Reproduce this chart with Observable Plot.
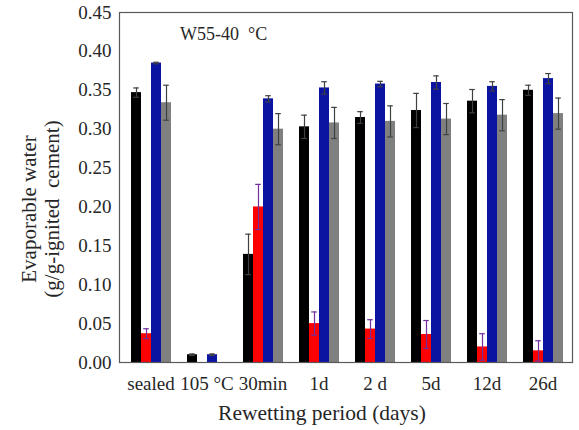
<!DOCTYPE html>
<html>
<head>
<meta charset="utf-8">
<script src="https://cdn.jsdelivr.net/npm/d3@7"></script>
<script src="https://cdn.jsdelivr.net/npm/@observablehq/plot@0.6"></script>
<style>
  html, body { margin: 0; padding: 0; background: #fff; }
  #chart { width: 579px; height: 430px; }
  #chart svg, #chart svg text { font-family: "Liberation Serif", "Times New Roman", serif !important; }
</style>
</head>
<body>
<div id="chart"></div>
<script>
// ---- data ----
const categories = ["sealed", "105 °C", "30min", "1d", "2 d", "5d", "12d", "26d"];
const seriesNames = ["S1", "S2", "S3", "S4"];
const seriesColors = ["#000000", "#ff0000", "#0a14a0", "#808080"];

const valuesS1 = [0.347, 0.010, 0.139, 0.303, 0.315, 0.324, 0.336, 0.350];
const valuesS2 = [0.037, 0.000, 0.200, 0.050, 0.043, 0.036, 0.020, 0.015];
const valuesS3 = [0.385, 0.010, 0.339, 0.353, 0.358, 0.360, 0.355, 0.365];
const valuesS4 = [0.334, 0.000, 0.300, 0.308, 0.310, 0.313, 0.318, 0.320];

const errorsS1 = [0.006, 0.001, 0.026, 0.015, 0.0075, 0.022, 0.015, 0.0065];
const errorsS2 = [0.0064, 0.000, 0.029, 0.015, 0.012, 0.018, 0.017, 0.013];
const errorsS3 = [0.001, 0.001, 0.004, 0.008, 0.0035, 0.0085, 0.006, 0.0065];
const errorsS4 = [0.0225, 0.000, 0.020, 0.020, 0.020, 0.020, 0.020, 0.020];

const yTicks = [0, 0.05, 0.10, 0.15, 0.20, 0.25, 0.30, 0.35, 0.40, 0.45];

const annotation = "W55-40\u00a0 °C";
const yTitle1 = "Evaporable water";
const yTitle2 = "(g/g-ignited\u00a0 cement)";
const xTitle = "Rewetting period (days)";

// ---- table ----
const allValues = [valuesS1, valuesS2, valuesS3, valuesS4];
const allErrors = [errorsS1, errorsS2, errorsS3, errorsS4];
const rows = [];
categories.forEach((c, i) => {
  seriesNames.forEach((s, j) => {
    rows.push({cat: c, series: s, value: allValues[j][i], err: allErrors[j][i]});
  });
});

const W = 579, H = 430;
const mL = 119, mR = 6, mT = 12, mB = 68;

const plot = Plot.plot({
  width: W,
  height: H,
  marginLeft: mL,
  marginRight: mR,
  marginTop: mT,
  marginBottom: mB,
  style: {fontSize: "19px", color: "#262626", background: "#fff"},
  facet: {data: rows, x: "cat"},
  fx: {domain: categories, paddingInner: 0.24, paddingOuter: 0.12, label: null, tickSize: 0, tickPadding: 14},
  x: {domain: seriesNames, axis: null, padding: 0},
  y: {domain: [0, 0.45], ticks: yTicks, tickFormat: ".2f", tickSize: 0, tickPadding: 18, label: null},
  color: {domain: seriesNames, range: seriesColors},
  marks: [
    Plot.barY(rows, {x: "series", y: "value", fill: "series", filter: d => d.value > 0}),
    Plot.ruleX(rows, {x: "series", y1: d => Math.max(0, d.value - d.err), y2: d => d.value + d.err,
      stroke: "#404040", strokeWidth: 1.2, filter: d => d.err > 0 && d.series !== "S2"}),
    Plot.tickY(rows, {x: "series", y: d => d.value + d.err, stroke: "#404040", strokeWidth: 1.2,
      insetLeft: 2.2, insetRight: 2.2, filter: d => d.err > 0 && d.series !== "S2"}),
    Plot.tickY(rows, {x: "series", y: d => Math.max(0, d.value - d.err), stroke: "#404040", strokeWidth: 1.2,
      insetLeft: 2.2, insetRight: 2.2, filter: d => d.err > 0 && d.series !== "S2" && d.value - d.err > 0}),
    Plot.ruleX(rows, {x: "series", y1: d => Math.max(0, d.value - d.err), y2: d => d.value + d.err,
      stroke: "#7030a0", strokeWidth: 1.2, filter: d => d.err > 0 && d.series === "S2"}),
    Plot.tickY(rows, {x: "series", y: d => d.value + d.err, stroke: "#7030a0", strokeWidth: 1.2,
      insetLeft: 2.2, insetRight: 2.2, filter: d => d.err > 0 && d.series === "S2"}),
    Plot.tickY(rows, {x: "series", y: d => Math.max(0, d.value - d.err), stroke: "#7030a0", strokeWidth: 1.2,
      insetLeft: 2.2, insetRight: 2.2, filter: d => d.err > 0 && d.series === "S2" && d.value - d.err > 0})
  ]
});

document.getElementById("chart").appendChild(plot);

// ---- frame, annotation and titles ----
const svg = d3.select(plot.tagName.toLowerCase() === "svg" ? plot : plot.querySelector("svg"));
const yScale = plot.scale("y");
const y0 = yScale.apply(0), yTop = yScale.apply(0.45);

svg.append("rect")
  .attr("x", mL + 0.5).attr("y", yTop + 0.5)
  .attr("width", W - mL - mR - 1).attr("height", y0 - yTop)
  .attr("fill", "none").attr("stroke", "#595959").attr("stroke-width", 1.2);

svg.append("text")
  .attr("x", 180).attr("y", 40)
  .attr("text-anchor", "start")
  .attr("font-size", 18).attr("fill", "#262626")
  .text(annotation);

const yt = svg.append("text")
  .attr("transform", `translate(36,209) rotate(-90)`)
  .attr("text-anchor", "middle")
  .attr("font-size", 21).attr("fill", "#262626");
yt.append("tspan").attr("x", 0).attr("dy", 0).text(yTitle1);
yt.append("tspan").attr("x", 0).attr("dy", 23).text(yTitle2);

svg.append("text")
  .attr("x", 322).attr("y", 420)
  .attr("text-anchor", "middle")
  .attr("font-size", 21.5).attr("fill", "#262626")
  .text(xTitle);
</script>
</body>
</html>
